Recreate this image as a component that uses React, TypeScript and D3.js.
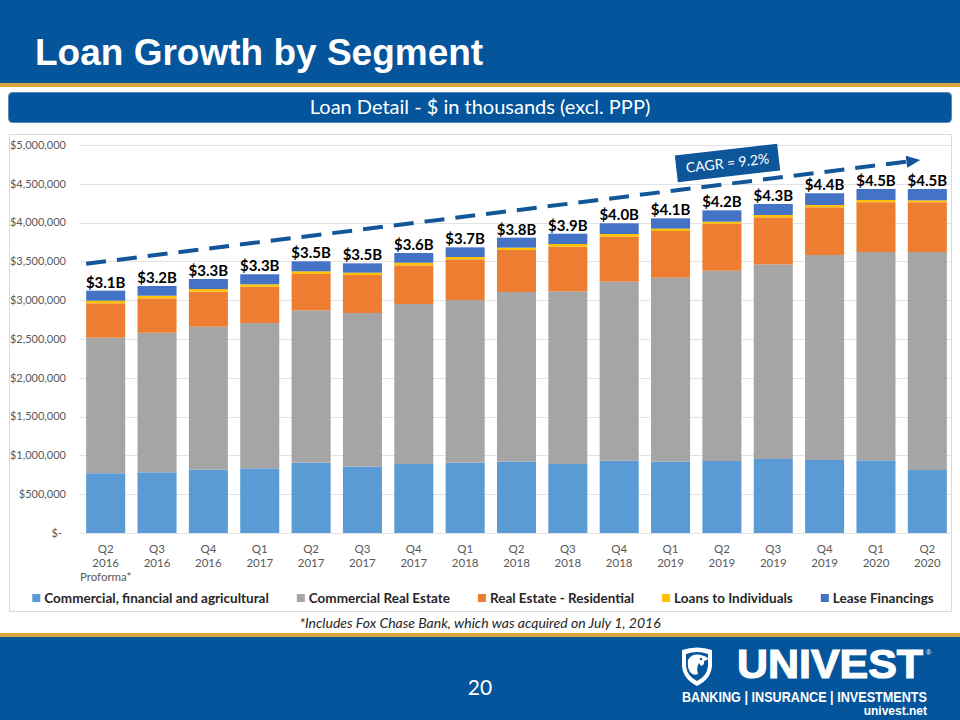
import React, { useEffect, useRef } from "react";
import * as d3 from "d3";

// ---------- DATA ($ in thousands) ----------
const quarters = ["Q2", "Q3", "Q4", "Q1", "Q2", "Q3", "Q4", "Q1", "Q2", "Q3", "Q4", "Q1", "Q2", "Q3", "Q4", "Q1", "Q2"];
const years = ["2016", "2016", "2016", "2017", "2017", "2017", "2017", "2018", "2018", "2018", "2018", "2019", "2019", "2019", "2019", "2020", "2020"];
const subLabels = ["Proforma*", "", "", "", "", "", "", "", "", "", "", "", "", "", "", "", ""];
const categories = quarters.map((q, i) => `${q} ${years[i]}`);

const commercialFinancialAgricultural = [770000, 782000, 816000, 833000, 906000, 855000, 889000, 906000, 919000, 889000, 932000, 919000, 928000, 954000, 941000, 936000, 812000];
const commercialRealEstate = [1747000, 1799000, 1843000, 1873000, 1964000, 1980000, 2062000, 2097000, 2187000, 2225000, 2307000, 2371000, 2452000, 2508000, 2641000, 2685000, 2809000];
const realEstateResidential = [443000, 443000, 451000, 468000, 468000, 490000, 498000, 524000, 541000, 576000, 579000, 602000, 606000, 606000, 615000, 641000, 641000];
const loansToIndividuals = [34000, 34000, 34000, 31000, 34000, 30000, 34000, 30000, 30000, 34000, 35000, 30000, 26000, 30000, 30000, 29000, 25000];
const leaseFinancings = [129000, 125000, 129000, 129000, 129000, 120000, 125000, 124000, 129000, 133000, 138000, 133000, 146000, 142000, 151000, 142000, 146000];

const totalLabels = ["$3.1B", "$3.2B", "$3.3B", "$3.3B", "$3.5B", "$3.5B", "$3.6B", "$3.7B", "$3.8B", "$3.9B", "$4.0B", "$4.1B", "$4.2B", "$4.3B", "$4.4B", "$4.5B", "$4.5B"];

const seriesKeys = ["cfa", "cre", "rer", "lti", "lf"];
const seriesNames = ["Commercial, financial and agricultural", "Commercial Real Estate", "Real Estate - Residential", "Loans to Individuals", "Lease Financings"];
const seriesColors = ["#5B9BD5", "#A5A5A5", "#ED7D31", "#FFC000", "#4472C4"];

const yTicks = [0, 500000, 1000000, 1500000, 2000000, 2500000, 3000000, 3500000, 4000000, 4500000, 5000000];
const trendValues = [3470000, 4807000];
const cagrLabel = "CAGR = 9.2%";

export default function App() {
  const ref = useRef<SVGSVGElement>(null);

  useEffect(() => {
    const svg = d3.select(ref.current);
    svg.selectAll("*").remove();
    const W = 960, H = 720;
    const blue = "#04559B";
    const gold = "#D8A43C";
    const calibri = "Lato, 'Open Sans', sans-serif";
    const arial = "'Liberation Sans', Arial, sans-serif";

    svg.append("rect").attr("width", W).attr("height", H).attr("fill", "#fff");

    // header
    svg.append("rect").attr("width", W).attr("height", 84).attr("fill", blue);
    svg.append("rect").attr("y", 83).attr("width", W).attr("height", 4).attr("fill", gold);
    svg.append("text").attr("x", 35).attr("y", 65).attr("fill", "#fff")
      .attr("font-family", arial).attr("font-weight", "bold").attr("font-size", 37)
      .text("Loan Growth by Segment");

    // subtitle bar
    svg.append("rect").attr("x", 8.5).attr("y", 92.5).attr("width", 943).attr("height", 30).attr("rx", 4)
      .attr("fill", blue).attr("stroke", "#5E86B8");
    svg.append("text").attr("x", 480).attr("y", 114).attr("text-anchor", "middle").attr("fill", "#fff")
      .attr("font-family", calibri).attr("font-size", 20)
      .text("Loan Detail - $ in thousands (excl. PPP)");

    // chart frame
    svg.append("rect").attr("x", 9.5).attr("y", 134.5).attr("width", 942).attr("height", 477)
      .attr("fill", "#fff").attr("stroke", "#D9D9D9");

    const y = d3.scaleLinear().domain([0, 5000000]).range([533, 145]);
    const x = d3.scaleBand<string>().domain(categories).range([80, 953]).paddingInner(0.24).paddingOuter(0.12);

    // grid + y labels
    const g = svg.append("g");
    g.selectAll("line.grid").data(yTicks).join("line")
      .attr("x1", 80).attr("x2", 951)
      .attr("y1", (d) => Math.round(y(d)) + 0.5).attr("y2", (d) => Math.round(y(d)) + 0.5)
      .attr("stroke", "#E3E3E3").attr("stroke-width", 1);
    g.selectAll("text.ytick").data(yTicks).join("text")
      .attr("x", (d) => (d === 0 ? 62 : 66)).attr("y", (d) => y(d)).attr("dy", "0.35em")
      .attr("text-anchor", "end").attr("fill", "#595959").attr("font-family", calibri).attr("font-size", 11)
      .text((d) => (d === 0 ? "$-" : d3.format("$,")(d)));

    // stacked bars
    const rows = categories.map((c, i) => ({
      cat: c,
      cfa: commercialFinancialAgricultural[i],
      cre: commercialRealEstate[i],
      rer: realEstateResidential[i],
      lti: loansToIndividuals[i],
      lf: leaseFinancings[i],
    }));
    const stack = d3.stack<any>().keys(seriesKeys)(rows);
    stack.forEach((s, si) => {
      g.append("g").selectAll("rect").data(s).join("rect")
        .attr("x", (d: any) => x(d.data.cat)!)
        .attr("width", x.bandwidth())
        .attr("y", (d: any) => y(d[1]))
        .attr("height", (d: any) => y(d[0]) - y(d[1]))
        .attr("fill", seriesColors[si]);
    });

    // total labels
    const totals = rows.map((r) => r.cfa + r.cre + r.rer + r.lti + r.lf);
    g.selectAll("text.total").data(categories).join("text")
      .attr("x", (c) => x(c)! + x.bandwidth() / 2)
      .attr("y", (_c, i) => y(totals[i]) - 3)
      .attr("text-anchor", "middle").attr("fill", "#000").attr("font-family", calibri)
      .attr("font-weight", "bold").attr("font-size", 15)
      .text((_c, i) => totalLabels[i]);

    // x labels
    categories.forEach((c, i) => {
      const cx = x(c)! + x.bandwidth() / 2;
      const t = g.append("text").attr("text-anchor", "middle").attr("fill", "#595959")
        .attr("font-family", calibri).attr("font-size", 11.5);
      t.append("tspan").attr("x", cx).attr("y", 553).text(quarters[i]);
      t.append("tspan").attr("x", cx).attr("y", 567).text(years[i]);
      if (subLabels[i]) t.append("tspan").attr("x", cx).attr("y", 581).text(subLabels[i]);
    });

    // trend arrow
    const x0 = x(categories[0])!;
    const x1 = x(categories[categories.length - 1])! + x.bandwidth() * 0.32;
    const y0 = y(trendValues[0]);
    const y1 = y(trendValues[1]);
    const ang = Math.atan2(y1 - y0, x1 - x0);
    const head = 14;
    const lx = x1 - head * Math.cos(ang);
    const ly = y1 - head * Math.sin(ang);
    const arrowColor = "#125699";
    g.append("line").attr("x1", x0).attr("y1", y0).attr("x2", lx).attr("y2", ly)
      .attr("stroke", arrowColor).attr("stroke-width", 4).attr("stroke-dasharray", "20 11");
    const px = -Math.sin(ang), py = Math.cos(ang);
    const hw = 6;
    g.append("path")
      .attr("d", `M${x1},${y1} L${lx + px * hw},${ly + py * hw} L${lx - px * hw},${ly - py * hw} Z`)
      .attr("fill", arrowColor);

    // CAGR box
    const cg = g.append("g").attr("transform", "translate(727.5,163) rotate(-6.6)");
    cg.append("rect").attr("x", -51.5).attr("y", -13.5).attr("width", 103).attr("height", 27).attr("fill", "#0D5699");
    cg.append("text").attr("x", 0).attr("y", 5).attr("text-anchor", "middle").attr("fill", "#fff")
      .attr("font-family", calibri).attr("font-size", 14).text(cagrLabel);

    // legend
    const lg = g.append("g");
    let cursor = 0;
    seriesNames.forEach((n, i) => {
      const it = lg.append("g");
      it.append("rect").attr("x", 0).attr("y", -4).attr("width", 8).attr("height", 8).attr("fill", seriesColors[i]);
      const t = it.append("text").attr("x", 12).attr("y", 0).attr("dy", "0.35em").attr("fill", "#262626")
        .attr("font-family", calibri).attr("font-weight", "bold").attr("font-size", 13.5).text(n);
      const w = (t.node() as SVGTextElement).getComputedTextLength();
      it.attr("transform", `translate(${cursor},598)`);
      cursor += 12 + w + 28;
    });
    const totalW = cursor - 28;
    lg.attr("transform", `translate(${483 - totalW / 2},0)`);

    // footnote
    svg.append("text").attr("x", 480).attr("y", 628).attr("text-anchor", "middle").attr("fill", "#262626")
      .attr("font-family", calibri).attr("font-style", "italic").attr("font-size", 14)
      .text("*Includes Fox Chase Bank, which was acquired on July 1, 2016");

    // footer
    svg.append("rect").attr("y", 633).attr("width", W).attr("height", 5).attr("fill", gold);
    svg.append("rect").attr("y", 637).attr("width", W).attr("height", H - 637).attr("fill", blue);
    svg.append("text").attr("x", 480).attr("y", 695).attr("text-anchor", "middle").attr("fill", "#fff")
      .attr("font-family", calibri).attr("font-size", 21).text("20");

    // logo
    const logo = svg.append("g");
    logo.append("path")
      .attr("d", "M682,650 Q697,645 712,650 L712,666 Q711,679 697,686 Q683,679 682,666 Z")
      .attr("fill", "#fff");
    logo.append("path")
      .attr("d", "M686,654 Q697,650 708,654 L708,666 Q707,676 697,681 Q687,676 686,666 Z")
      .attr("fill", blue);
    logo.append("path")
      .attr("d", "M688,660 Q692,653 701,655 Q706,656 709,659 L704,661 Q705,665 701,666 L699,663 Q696,668 698,674 Q693,676 690,672 Q687,667 688,660 Z")
      .attr("fill", "#fff");
    logo.append("circle").attr("cx", 701).attr("cy", 659).attr("r", 1.2).attr("fill", blue);
    logo.append("text").attr("x", 737).attr("y", 678).attr("fill", "#fff")
      .attr("font-family", arial).attr("font-weight", "bold").attr("font-size", 41)
      .attr("stroke", "#fff").attr("stroke-width", 1.2)
      .attr("textLength", 186).attr("lengthAdjust", "spacingAndGlyphs").text("UNIVEST");
    logo.append("text").attr("x", 926).attr("y", 655).attr("fill", "#fff")
      .attr("font-family", arial).attr("font-size", 7).text("®");
    logo.append("text").attr("x", 682).attr("y", 702).attr("fill", "#fff")
      .attr("font-family", arial).attr("font-weight", "bold").attr("font-size", 14)
      .attr("textLength", 245).attr("lengthAdjust", "spacingAndGlyphs").text("BANKING | INSURANCE | INVESTMENTS");
    logo.append("text").attr("x", 927).attr("y", 715).attr("text-anchor", "end").attr("fill", "#fff")
      .attr("font-family", arial).attr("font-weight", "bold").attr("font-size", 12).text("univest.net");
  }, []);

  return <svg ref={ref} width={960} height={720} style={{ position: "absolute", left: 0, top: 0 }} />;
}
